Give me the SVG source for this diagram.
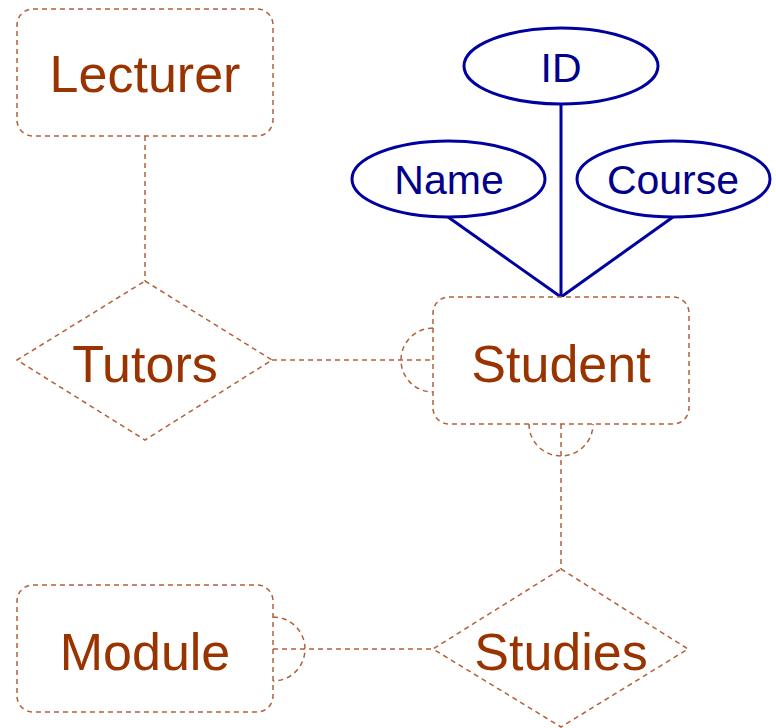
<svg xmlns="http://www.w3.org/2000/svg" width="776" height="728" viewBox="0 0 776 728">
<style>
.ent{fill:#ffffff;stroke:#b3603a;stroke-width:1.5;stroke-dasharray:5,4}
.rel{fill:#ffffff;stroke:#b3603a;stroke-width:1.5;stroke-dasharray:5,4}
.con{fill:none;stroke:#b3603a;stroke-width:1.5;stroke-dasharray:5,4}
.etx{font-family:"Liberation Sans",Arial,sans-serif;font-size:52px;fill:#993300;text-anchor:middle}
.att{fill:#ffffff;stroke:#0000a0;stroke-width:3}
.atx{font-family:"Liberation Sans",Arial,sans-serif;font-size:41px;fill:#00008b;text-anchor:middle}
.aln{stroke:#0000a0;stroke-width:3;fill:none}
</style>
<g id="connectors">
<line class="con" x1="145" y1="136" x2="145" y2="281"/>
<line class="con" x1="272" y1="360" x2="433" y2="360"/>
<line class="con" x1="561" y1="424" x2="561" y2="569"/>
<line class="con" x1="273" y1="649" x2="433" y2="649"/>
<path class="con" d="M433,328 A32,32 0 0 0 433,392"/>
<path class="con" d="M529,424 A32,32 0 0 0 593,424"/>
<path class="con" d="M273,617 A32,32 0 0 1 273,681"/>
<line class="aln" x1="561" y1="297" x2="561" y2="104"/>
<line class="aln" x1="561" y1="297" x2="448" y2="217"/>
<line class="aln" x1="561" y1="297" x2="673" y2="217"/>
</g>
<g id="lecturer">
<rect class="ent" x="17" y="9" width="256" height="127" rx="16"/>
<text class="etx" x="145" y="92">Lecturer</text>
</g>
<g id="tutors">
<polygon class="rel" points="145,281 272,360 145,440 17,360"/>
<text class="etx" x="145" y="382">Tutors</text>
</g>
<g id="student">
<rect class="ent" x="433" y="297" width="256" height="127" rx="16"/>
<text class="etx" x="561" y="382">Student</text>
</g>
<g id="module">
<rect class="ent" x="17" y="585" width="256" height="127" rx="16"/>
<text class="etx" x="145" y="670">Module</text>
</g>
<g id="studies">
<polygon class="rel" points="561,569 688,649 561,727 433,649"/>
<text class="etx" x="561" y="670">Studies</text>
</g>
<g id="attr-id">
<ellipse class="att" cx="561" cy="66" rx="97" ry="38"/>
<text class="atx" x="561" y="82">ID</text>
</g>
<g id="attr-name">
<ellipse class="att" cx="448.5" cy="179" rx="96.5" ry="38"/>
<text class="atx" x="449" y="194">Name</text>
</g>
<g id="attr-course">
<ellipse class="att" cx="673.5" cy="179" rx="96.5" ry="38"/>
<text class="atx" x="673" y="194">Course</text>
</g>
</svg>
